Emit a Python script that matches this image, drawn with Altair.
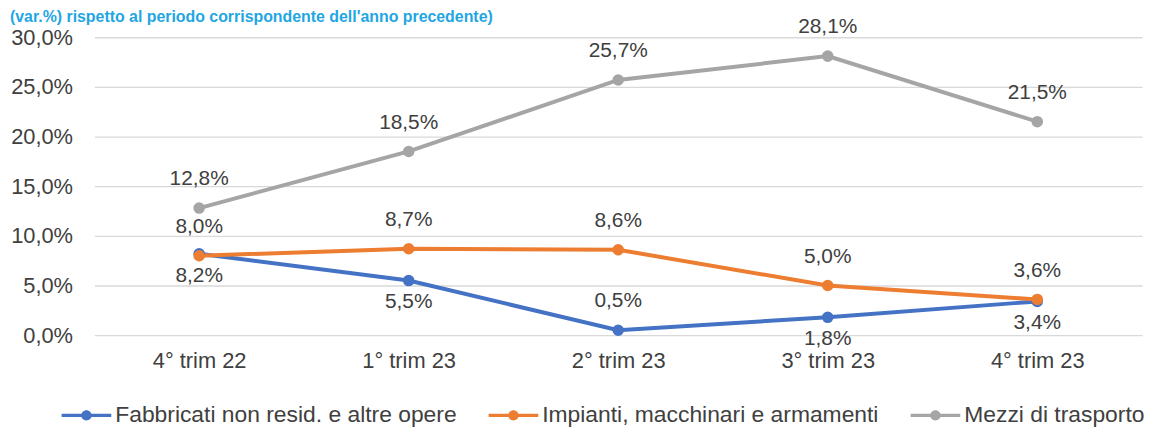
import altair as alt
import pandas as pd

categories = ["4° trim 22", "1° trim 23", "2° trim 23", "3° trim 23", "4° trim 23"]
series_names = ["Fabbricati non resid. e altre opere",
                "Impianti, macchinari e armamenti",
                "Mezzi di trasporto"]
fabbricati = [8.2, 5.5, 0.5, 1.8, 3.4]
impianti = [8.0, 8.7, 8.6, 5.0, 3.6]
mezzi = [12.8, 18.5, 25.7, 28.1, 21.5]
fabbricati_label_pos = ["below", "below", "above", "below", "below"]
impianti_label_pos = ["above"] * 5
mezzi_label_pos = ["above"] * 5
colors = ["#4472C4", "#ED7D31", "#A5A5A5"]
y_ticks = [0, 5, 10, 15, 20, 25, 30]
title_text = "(var.%) rispetto al periodo corrispondente dell'anno precedente)"

FONT = "Liberation Sans"
TXT = "#404040"

rows = []
for si, (name, vals, pos) in enumerate(zip(series_names,
                                          [fabbricati, impianti, mezzi],
                                          [fabbricati_label_pos, impianti_label_pos, mezzi_label_pos])):
    for c, v, p in zip(categories, vals, pos):
        rows.append({"serie": name, "order": si, "trim": c, "val": v, "pos": p,
                     "label": f"{v:.1f}".replace(".", ",") + "%"})
df = pd.DataFrame(rows)

x_enc = alt.X("trim:N", sort=categories,
              scale=alt.Scale(type="point", padding=0.5),
              axis=alt.Axis(title=None, labelAngle=0, labelFontSize=22, labelFont=FONT,
                            labelColor=TXT, labelPadding=16, domain=False, ticks=False, grid=False))
y_enc = alt.Y("val:Q", scale=alt.Scale(domain=[0, 30], nice=False),
              axis=alt.Axis(title=None, values=y_ticks, labelFontSize=22, labelFont=FONT,
                            labelColor=TXT, labelPadding=22, domain=False, ticks=False,
                            gridColor="#d9d9d9", gridWidth=1.3,
                            labelExpr="replace(format(datum.value, '.1f'), '.', ',') + '%'"))
color_scale = alt.Scale(domain=series_names, range=colors)

base = alt.Chart(df)

lines = base.mark_line(strokeWidth=4).encode(
    x=x_enc, y=y_enc,
    color=alt.Color("serie:N", scale=color_scale, legend=None),
    order=alt.Order("order:Q"),
)

legend = alt.Legend(
    orient="none", legendX=-20.5, legendY=368, direction="horizontal", title=None,
    symbolType="M-2,-0.13L2,-0.13L2,0.13L-2,0.13ZM0.42,0A0.42,0.42,0,1,1,-0.42,0A0.42,0.42,0,1,1,0.42,0Z",
    symbolSize=625, symbolStrokeWidth=0, symbolOpacity=1,
    labelFontSize=23, labelFont=FONT, labelColor=TXT, labelOffset=16.5,
    columnPadding=31, labelLimit=500,
)

points = base.mark_circle(size=135, opacity=1).encode(
    x=x_enc, y=y_enc,
    color=alt.Color("serie:N", scale=color_scale, legend=legend),
)

labels_above = base.transform_filter(alt.datum.pos == "above").mark_text(
    dy=-29, fontSize=21, font=FONT, color=TXT, baseline="middle"
).encode(x=x_enc, y=y_enc, text="label:N")

labels_below = base.transform_filter(alt.datum.pos == "below").mark_text(
    dy=22, fontSize=21, font=FONT, color=TXT, baseline="middle"
).encode(x=x_enc, y=y_enc, text="label:N")

title = alt.Chart(pd.DataFrame({"t": [title_text]})).mark_text(
    align="left", baseline="alphabetic", fontSize=16, font=FONT, fontWeight="bold",
    color="#1FA6E3"
).encode(x=alt.value(-85), y=alt.value(-15), text="t:N")

chart = alt.layer(lines, points, labels_above, labels_below, title).resolve_legend(
    color="independent"
).properties(
    width=1055, height=300,
    padding={"left": 87, "top": 28, "right": 3, "bottom": 91},
    autosize=alt.AutoSizeParams(type="none"),
).configure_view(stroke=None)

chart.save("out.html", embed_options={"renderer": "svg", "actions": False})
